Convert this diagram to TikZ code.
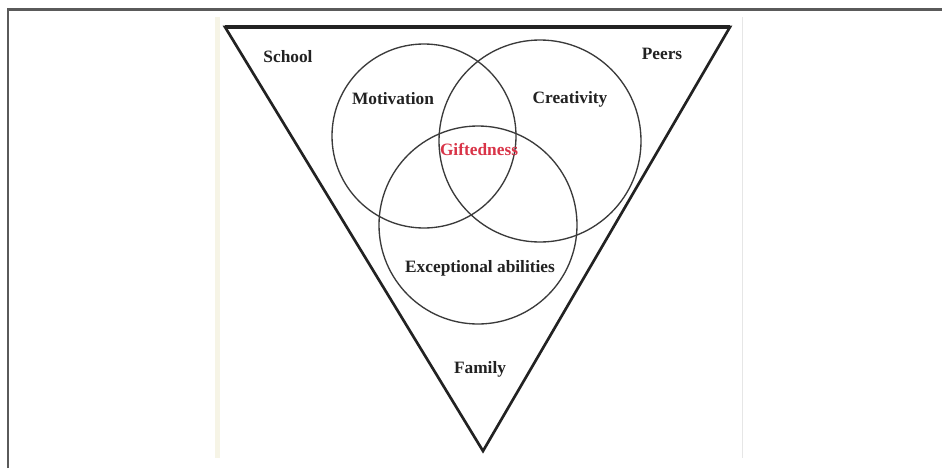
\documentclass[tikz,border=0pt]{standalone}
\usepackage{fontspec}
\setmainfont{Liberation Serif}
\definecolor{framegray}{HTML}{5A5A5A}
\definecolor{inkdark}{HTML}{222222}
\definecolor{circgray}{HTML}{3A3A3A}
\definecolor{giftred}{HTML}{D93448}
\definecolor{cream}{HTML}{F6F4E6}
\definecolor{edgegray}{HTML}{E6E6E6}
\begin{document}
\begin{tikzpicture}[x=0.75pt,y=-0.75pt,
  lbl/.style={font=\fontsize{13}{15}\selectfont\bfseries, text=inkdark, inner sep=0pt},
  ring/.style={draw=circgray, line width=1pt},
  tri/.style={draw=inkdark, line width=2pt, line join=miter}]
\useasboundingbox (0,0) rectangle (942,468);
\fill[white] (0,0) rectangle (942,468);
% outer frame (top and left)
\draw[framegray, line width=1.6pt] (8,468) -- (8,9.5) -- (942,9.5);
% inner picture area
\fill[cream] (215,17) rectangle (220,458);
\draw[edgegray, line width=0.6pt] (742,17) -- (742,458);
% triangle
\coordinate (TL) at (225,27);
\coordinate (TR) at (730,27);
\coordinate (B) at (483,451);
\draw[tri] (TL) -- (TR) -- (B) -- cycle;
\draw[inkdark, line width=2.6pt] (TL) -- (TR);
% circles
\draw[ring] (424,136) circle (92);
\draw[ring] (540,141) circle (101);
\draw[ring] (478,225) circle (99);
% labels
\node[lbl] (school) at (288,57) {School};
\node[lbl] (peers) at (662,54) {Peers};
\node[lbl] (motiv) at (393,99) {Motivation};
\node[lbl] (creat) at (570,99) {Creativity};
\node[lbl, text=giftred] (gift) at (479,149) {Giftedness};
\node[lbl] (except) at (480,268) {Exceptional abilities};
\node[lbl] (family) at (480,369) {Family};
\end{tikzpicture}
\end{document}
